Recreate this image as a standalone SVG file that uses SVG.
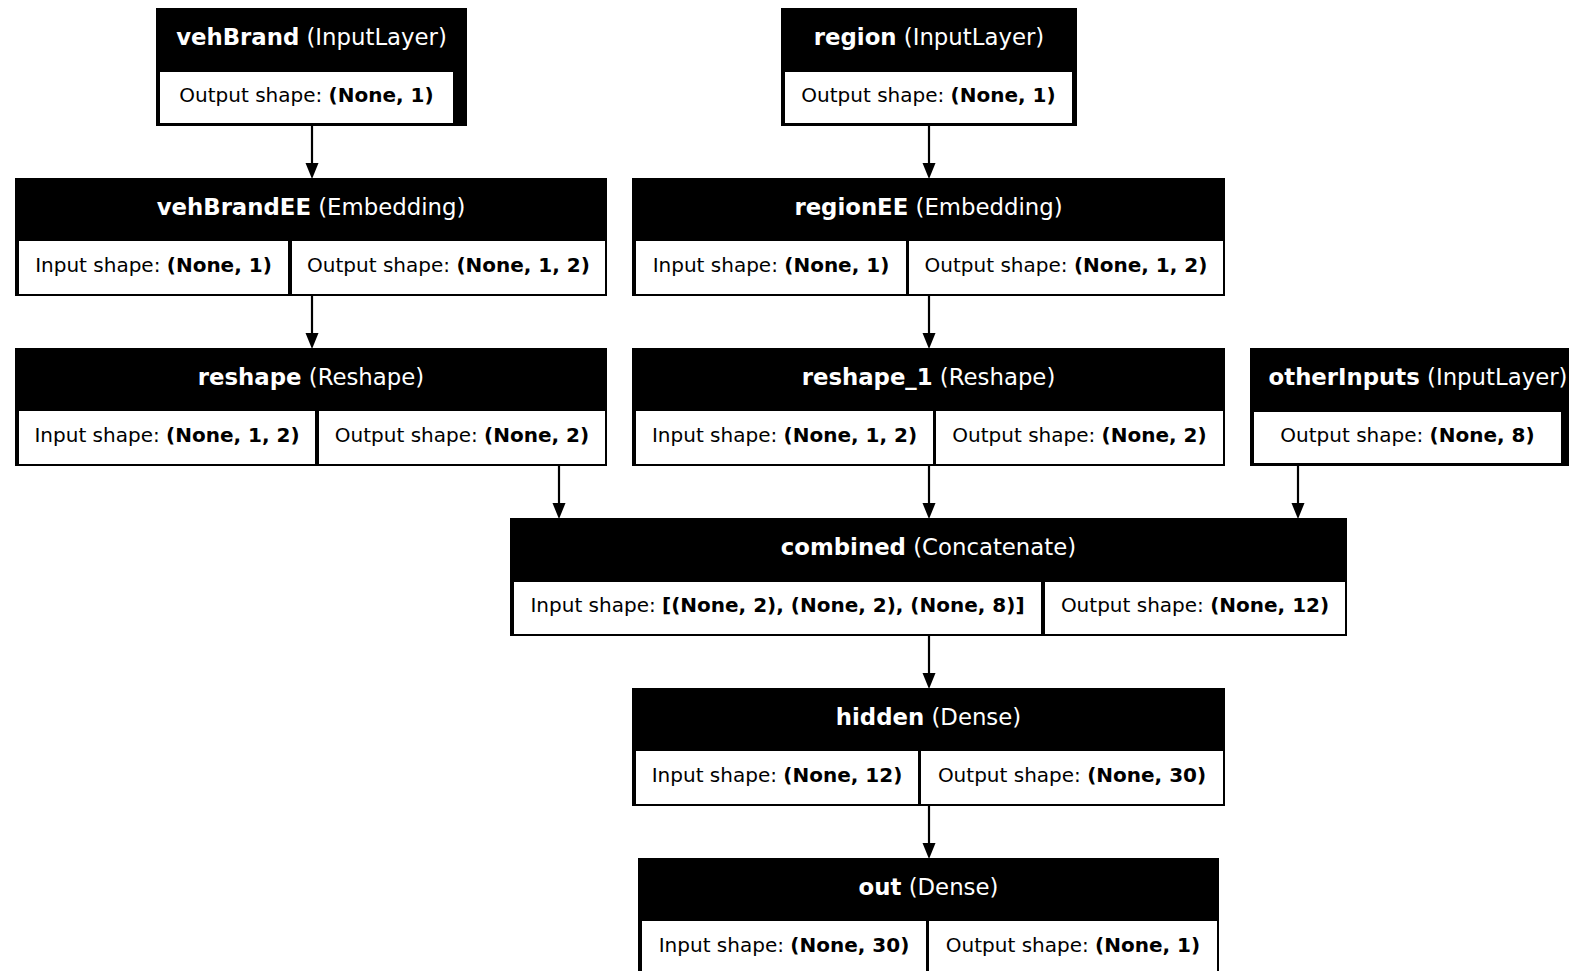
<svg xmlns="http://www.w3.org/2000/svg" width="1569" height="971" viewBox="0 0 1569 971">
<style>
.box{fill:#000}
.cell{fill:#fff}
text{font-family:"DejaVu Sans","Liberation Sans",sans-serif;text-anchor:middle}
.t{fill:#fff;font-size:22.8px}
.c{fill:#000;font-size:20px}
.b{font-weight:bold}
.edge{stroke:#000;stroke-width:2.2;fill:none}
.head{fill:#000}
</style>
<rect width="1569" height="971" fill="#fff"/>
<g id="connectors">
<line class="edge" x1="312" y1="126" x2="312" y2="164"/><polygon class="head" points="305.5,163 318.5,163 312,179"/>
<line class="edge" x1="929" y1="126" x2="929" y2="164"/><polygon class="head" points="922.5,163 935.5,163 929,179"/>
<line class="edge" x1="312" y1="296" x2="312" y2="334"/><polygon class="head" points="305.5,333 318.5,333 312,349"/>
<line class="edge" x1="929" y1="296" x2="929" y2="334"/><polygon class="head" points="922.5,333 935.5,333 929,349"/>
<line class="edge" x1="559" y1="466" x2="559" y2="504"/><polygon class="head" points="552.5,503 565.5,503 559,519"/>
<line class="edge" x1="929" y1="466" x2="929" y2="504"/><polygon class="head" points="922.5,503 935.5,503 929,519"/>
<line class="edge" x1="1298" y1="466" x2="1298" y2="504"/><polygon class="head" points="1291.5,503 1304.5,503 1298,519"/>
<line class="edge" x1="929" y1="636" x2="929" y2="674"/><polygon class="head" points="922.5,673 935.5,673 929,689"/>
<line class="edge" x1="929" y1="806" x2="929" y2="844"/><polygon class="head" points="922.5,843 935.5,843 929,859"/>
</g>
<g id="vehBrand">
<rect class="box" x="156" y="8" width="311" height="118"/>
<rect class="cell" x="160" y="72" width="293" height="51"/>
<text class="t" x="311.5" y="44.5"><tspan class="b">vehBrand</tspan> (InputLayer)</text>
<text class="c" x="306.5" y="101.5">Output shape: <tspan class="b">(None, 1)</tspan></text>
</g>
<g id="region">
<rect class="box" x="781" y="8" width="296" height="118"/>
<rect class="cell" x="785" y="72" width="287" height="51"/>
<text class="t" x="929" y="44.5"><tspan class="b">region</tspan> (InputLayer)</text>
<text class="c" x="928.5" y="101.5">Output shape: <tspan class="b">(None, 1)</tspan></text>
</g>
<g id="vehBrandEE">
<rect class="box" x="15" y="178" width="592" height="118"/>
<rect class="cell" x="19" y="241" width="269" height="53"/>
<rect class="cell" x="292" y="241" width="313" height="53"/>
<text class="t" x="311" y="214.5"><tspan class="b">vehBrandEE</tspan> (Embedding)</text>
<text class="c" x="153.5" y="271.5">Input shape: <tspan class="b">(None, 1)</tspan></text>
<text class="c" x="448.5" y="271.5">Output shape: <tspan class="b">(None, 1, 2)</tspan></text>
</g>
<g id="regionEE">
<rect class="box" x="632" y="178" width="593" height="118"/>
<rect class="cell" x="636" y="241" width="270" height="53"/>
<rect class="cell" x="909" y="241" width="314" height="53"/>
<text class="t" x="928.5" y="214.5"><tspan class="b">regionEE</tspan> (Embedding)</text>
<text class="c" x="771" y="271.5">Input shape: <tspan class="b">(None, 1)</tspan></text>
<text class="c" x="1066" y="271.5">Output shape: <tspan class="b">(None, 1, 2)</tspan></text>
</g>
<g id="reshape">
<rect class="box" x="15" y="348" width="592" height="118"/>
<rect class="cell" x="19" y="411" width="296" height="53"/>
<rect class="cell" x="319" y="411" width="286" height="53"/>
<text class="t" x="311" y="384.5"><tspan class="b">reshape</tspan> (Reshape)</text>
<text class="c" x="167" y="441.5">Input shape: <tspan class="b">(None, 1, 2)</tspan></text>
<text class="c" x="462" y="441.5">Output shape: <tspan class="b">(None, 2)</tspan></text>
</g>
<g id="reshape_1">
<rect class="box" x="632" y="348" width="593" height="118"/>
<rect class="cell" x="636" y="411" width="297" height="53"/>
<rect class="cell" x="936" y="411" width="287" height="53"/>
<text class="t" x="928.5" y="384.5"><tspan class="b">reshape_1</tspan> (Reshape)</text>
<text class="c" x="784.5" y="441.5">Input shape: <tspan class="b">(None, 1, 2)</tspan></text>
<text class="c" x="1079.5" y="441.5">Output shape: <tspan class="b">(None, 2)</tspan></text>
</g>
<g id="otherInputs">
<rect class="box" x="1250" y="348" width="330" height="118"/>
<rect class="cell" x="1254" y="412" width="307" height="51"/>
<text class="t" x="1418" y="384.5"><tspan class="b">otherInputs</tspan> (InputLayer)</text>
<text class="c" x="1407.5" y="441.5">Output shape: <tspan class="b">(None, 8)</tspan></text>
</g>
<g id="combined">
<rect class="box" x="510" y="518" width="837" height="118"/>
<rect class="cell" x="514" y="582" width="527" height="52"/>
<rect class="cell" x="1045" y="582" width="300" height="52"/>
<text class="t" x="928.5" y="554.5"><tspan class="b">combined</tspan> (Concatenate)</text>
<text class="c" x="777.5" y="611.5">Input shape: <tspan class="b">[(None, 2), (None, 2), (None, 8)]</tspan></text>
<text class="c" x="1195" y="611.5">Output shape: <tspan class="b">(None, 12)</tspan></text>
</g>
<g id="hidden">
<rect class="box" x="632" y="688" width="593" height="118"/>
<rect class="cell" x="636" y="751" width="282" height="53"/>
<rect class="cell" x="921" y="751" width="302" height="53"/>
<text class="t" x="928.5" y="724.5"><tspan class="b">hidden</tspan> (Dense)</text>
<text class="c" x="777" y="781.5">Input shape: <tspan class="b">(None, 12)</tspan></text>
<text class="c" x="1072" y="781.5">Output shape: <tspan class="b">(None, 30)</tspan></text>
</g>
<g id="out">
<rect class="box" x="638" y="858" width="581" height="118"/>
<rect class="cell" x="642" y="921" width="284" height="53"/>
<rect class="cell" x="929" y="921" width="288" height="53"/>
<text class="t" x="928.5" y="894.5"><tspan class="b">out</tspan> (Dense)</text>
<text class="c" x="784" y="951.5">Input shape: <tspan class="b">(None, 30)</tspan></text>
<text class="c" x="1073" y="951.5">Output shape: <tspan class="b">(None, 1)</tspan></text>
</g>
</svg>
